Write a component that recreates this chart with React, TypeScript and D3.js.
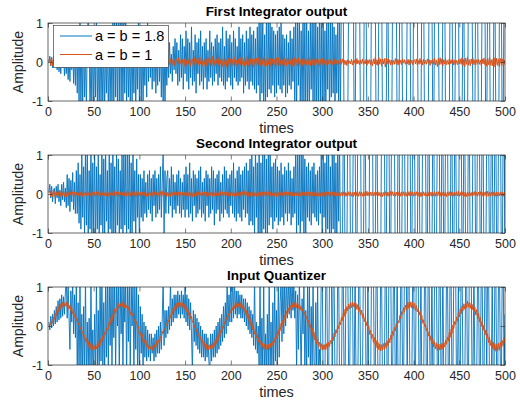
import React, { useEffect, useRef } from 'react';
import * as d3 from 'd3';

// a = b = 1.8 (blue) and a = b = 1 (orange), samples 1..500

const firstBlue = [
  0, 0.15, -0.1, 0.12, -0.15, 0.05, 0.18, -0.12, 0.1, -0.2,
  0.15, -0.25, 0.05, -0.3, 0.2, -0.15, 0.25, -0.35, 0.1, -0.3,
  0.3, -0.45, 0.15, -0.5, 0.35, -0.2, 0.4, -0.55, 0.2, -0.6,
  0.6, -0.8, 0.9, -1.2, 1.3, -1.4, 0.5, -1.1, 0.7, -0.9,
  0.4, -1.3, 0.6, 1.2, 0.6, -1.5, 0.3, -1.1, 0.8, -1.3,
  0.5, -0.9, 1.3, -1.2, 0.4, -1.4, 0.7, -1.0, 0.3, -1.2,
  0.6, -1.3, 0.5, -0.8, 0.7, -1.4, 0.4, -1.1, 0.6, -1.3,
  1.2, -1.2, 1.4, -0.9, 1.1, -1.3, 1.3, -1.0, 1.5, -1.2,
  1.2, -1.4, 1.1, -0.8, 1.3, -1.1, 0.6, -0.9, 0.5, -1.2,
  0.7, -1.0, 0.4, -0.8, 0.9, -1.3, 0.5, -0.7, 1.2, -1.1,
  0.6, -1.3, 0.8, -1.2, 0.5, -0.6, 0.7, -0.9, 1.2, -0.5,
  0.8, -0.4, 0.6, -0.7, 0.9, -0.5, 0.7, -0.8, 0.4, -0.6,
  0.8, -0.5, 0.6, -0.9, 0.5, -1.2, 0.7, -1.3, 0.4, -0.6,
  0.3, -0.4, 0.5, -0.3, 0.2, -0.5, 0.4, -0.2, 0.6, -0.3,
  0.5, -0.6, 0.3, -0.5, 0.7, -0.4, 0.6, -0.7, 0.4, -0.3,
  0.8, -0.5, 0.6, -0.7, 0.5, -0.4, 0.9, -0.6, 0.3, -0.5,
  0.7, -0.8, 0.5, -0.3, 0.6, -0.6, 0.8, -0.5, 0.4, -0.7,
  0.5, -0.4, 0.6, -0.7, 0.3, -0.5, 0.8, -0.4, 0.5, -0.6,
  0.4, -0.5, 0.6, -0.3, 0.7, -0.6, 0.5, -0.4, 0.6, -0.5,
  0.9, -0.6, 0.4, -0.7, 0.8, -0.5, 0.6, -0.4, 0.7, -0.6,
  0.5, -0.7, 0.8, -0.4, 0.6, -0.5, 0.4, -0.6, 0.9, -0.5,
  0.6, -0.4, 0.7, -0.8, 0.5, -0.6, 0.8, -0.5, 0.6, -0.7,
  0.9, -0.5, 0.7, -0.6, 0.8, -0.7, 0.6, -0.8, 0.9, -0.6,
  1.3, -1.2, 1.4, -0.8, 1.2, -1.3, 0.7, -1.1, 1.3, -0.9,
  1.1, -0.7, 1.2, -0.8, 0.9, -0.6, 0.8, -0.9, 0.7, -0.8,
  0.8, -0.6, 0.9, -0.7, 1.1, -0.8, 0.7, -0.6, 0.6, -0.9,
  0.7, -0.8, 0.5, -0.6, 0.8, -0.7, 0.6, -0.5, 0.9, -1.1,
  1.2, -1.3, 1.1, -0.6, 1.4, -1.2, 0.8, -1.4, 1.3, -1.1,
  1.2, -1.3, 1.4, -1.2, 0.8, -1.3, 1.1, -0.7, 1.3, -1.2,
  1.3, -1.1, 1.2, -1.4, 0.9, -1.2, 1.3, -1.0, 1.2, -1.3,
  1.4, -1.2, 0.8, -1.3, 1.2, -0.7, 1.3, -1.4, 1.1, -0.9,
  1.2, -0.8, 0.9, -1.3, 0.7, -0.8, 1.2, -1.0, 1.3, -1.4,
  1.8, 2.1, 1.6, -1.9, -2.4, -1.7, -2.2, -1.5, 2.0, 2.3,
  1.7, 2.5, 1.9, 2.2, -1.8, -2.1, 1.6, 2.4, 1.9, 2.0,
  1.5, -2.3, -1.7, -2.0, -2.6, 1.8, 2.2, 1.6, -1.9, -2.3,
  -1.6, -2.1, -1.8, 2.4, 1.7, 2.0, 1.5, 2.2, -2.0, -1.6,
  -2.4, 1.9, 2.1, 1.6, 2.3, -1.8, -2.2, -1.5, -2.0, -1.7,
  2.1, 1.8, -2.3, -1.9, -1.6, -2.2, 1.7, 2.4, 2.0, 1.6,
  2.2, -1.9, -2.1, -1.7, 2.5, 1.8, 2.0, -1.6, -2.3, -1.9,
  -2.1, -1.8, 1.6, 2.2, 1.9, 2.4, -2.0, -1.7, -2.2, 1.8,
  2.1, 1.5, 2.3, 1.9, -1.8, -2.4, -1.6, -2.0, 2.2, 1.7,
  2.0, -1.9, -2.2, -1.6, -2.3, -1.8, 2.1, 1.6, 2.4, 1.9,
  -1.7, -2.1, 1.8, 2.3, 1.6, 2.0, 2.2, -1.9, -2.4, -1.6,
  -2.1, 1.7, 2.0, 2.4, -1.8, -2.2, -1.6, -2.0, -1.9, 2.3,
  1.8, 2.1, -1.7, -2.3, -1.9, 1.6, 2.2, 1.9, 2.5, -2.0,
  -1.6, -2.2, -1.8, 2.1, 1.7, -2.4, -1.9, -2.1, -1.6, 2.0,
  2.3, 1.8, 2.2, 1.6, -1.9, -2.2, -1.7, 2.4, 2.0, 1.7,
  -2.1, -1.8, -2.3, -1.6, 1.9, 2.2, 1.5, 2.0, -2.4, -1.8,
  1.7, 2.1, 1.9, -2.2, -1.6, -2.0, -1.8, 2.3, 1.9, -1.7,
  -2.2, -1.9, -2.4, 1.8, 2.1, 1.6, -2.0, -1.7, 2.2, 1.9,
];

const firstOrange = [
  0.02, 0.10, -0.08, 0.12, -0.10, 0.06, -0.04, 0.09, -0.07, 0.03,
  -0.05, 0.07, -0.09, 0.04, -0.03, 0.08, -0.06, 0.02, -0.08, 0.05,
  0.06, -0.04, 0.03, -0.07, 0.09, -0.05, 0.04, -0.02, 0.07, -0.06,
  0.03, -0.08, 0.05, -0.03, 0.06, -0.09, 0.04, 0.02, -0.05, 0.08,
  -0.04, 0.06, -0.07, 0.03, -0.02, 0.07, -0.05, 0.09, -0.06, 0.04,
  0.05, -0.03, 0.08, -0.06, 0.02, -0.04, 0.07, -0.08, 0.03, -0.05,
  0.06, -0.07, 0.04, -0.02, 0.09, -0.05, 0.03, -0.06, 0.08, -0.04,
  -0.03, 0.05, -0.08, 0.06, -0.04, 0.02, -0.07, 0.10, -0.05, 0.03,
  0.07, -0.04, 0.05, -0.09, 0.03, -0.06, 0.08, -0.02, 0.04, -0.07,
  0.02, -0.05, 0.09, -0.03, 0.06, -0.08, 0.04, -0.06, 0.07, -0.03,
  0.05, -0.07, 0.03, -0.04, 0.08, -0.06, 0.02, -0.09, 0.06, -0.03,
  0.04, -0.05, 0.07, -0.02, 0.05, -0.08, 0.03, 0.06, -0.07, 0.04,
  -0.06, 0.08, -0.03, 0.05, -0.09, 0.02, -0.04, 0.07, -0.05, 0.10,
  -0.08, 0.04, -0.06, 0.09, -0.03, 0.05, -0.07, 0.03, -0.10, 0.06,
  0.08, -0.05, 0.11, -0.07, 0.04, -0.09, 0.06, -0.03, 0.09, -0.12,
  0.05, -0.08, 0.10, -0.04, 0.07, -0.11, 0.03, 0.08, -0.06, 0.12,
  -0.09, 0.06, -0.04, 0.10, -0.07, 0.13, -0.05, 0.08, -0.10, 0.04,
  -0.06, 0.09, -0.12, 0.07, -0.03, 0.11, -0.08, 0.05, -0.09, 0.14,
  -0.07, 0.04, -0.10, 0.08, -0.05, 0.12, -0.09, 0.06, -0.04, 0.10,
  -0.11, 0.07, -0.06, 0.09, -0.13, 0.05, -0.08, 0.11, -0.04, 0.08,
  -0.10, 0.06, -0.07, 0.12, -0.09, 0.05, -0.12, 0.08, -0.05, 0.13,
  -0.08, 0.10, -0.06, 0.04, -0.11, 0.09, -0.07, 0.14, -0.10, 0.06,
  -0.05, 0.11, -0.09, 0.07, -0.13, 0.08, -0.04, 0.10, -0.08, 0.12,
  -0.07, 0.05, -0.10, 0.09, -0.06, 0.13, -0.11, 0.07, -0.09, 0.11,
  -0.06, 0.08, -0.12, 0.10, -0.05, 0.09, -0.08, 0.06, -0.14, 0.11,
  -0.07, 0.12, -0.09, 0.05, -0.10, 0.08, -0.06, 0.13, -0.08, 0.07,
  -0.11, 0.09, -0.05, 0.10, -0.07, 0.06, -0.12, 0.08, -0.09, 0.12,
  -0.06, 0.07, -0.10, 0.11, -0.08, 0.05, -0.07, 0.09, -0.11, 0.06,
  -0.05, 0.10, -0.08, 0.07, -0.06, 0.12, -0.09, 0.05, -0.07, 0.08,
  -0.10, 0.06, -0.05, 0.09, -0.07, 0.04, -0.11, 0.08, -0.06, 0.10,
  -0.08, 0.05, -0.04, 0.07, -0.09, 0.06, -0.05, 0.08, -0.03, 0.06,
  -0.07, 0.04, -0.06, 0.09, -0.04, 0.05, -0.08, 0.03, -0.05, 0.07,
  -0.06, 0.08, -0.03, 0.05, -0.07, 0.04, -0.09, 0.06, -0.04, 0.03,
  -0.05, 0.07, -0.08, 0.04, -0.03, 0.06, -0.06, 0.09, -0.05, 0.04,
  -0.07, 0.05, -0.04, 0.08, -0.06, 0.03, -0.05, 0.07, -0.09, 0.06,
  -0.04, 0.06, -0.07, 0.05, -0.10, 0.08, -0.05, 0.11, -0.07, 0.06,
  -0.09, 0.12, -0.06, 0.08, -0.11, 0.07, -0.05, 0.09, -0.13, 0.10,
  -0.06, 0.08, -0.04, 0.06, -0.08, 0.05, -0.07, 0.04, -0.06, 0.09,
  -0.05, 0.07, -0.08, 0.06, -0.04, 0.05, -0.07, 0.08, -0.03, 0.06,
  -0.06, 0.04, -0.05, 0.07, -0.08, 0.06, -0.04, 0.05, -0.07, 0.03,
  0.06, -0.05, 0.08, -0.07, 0.04, -0.06, 0.09, -0.04, 0.05, -0.08,
  0.07, -0.05, 0.04, -0.06, 0.08, -0.03, 0.06, -0.09, 0.05, -0.04,
  0.07, -0.06, 0.10, -0.08, 0.05, -0.12, 0.09, -0.07, 0.11, -0.06,
  0.08, -0.10, 0.06, -0.05, 0.09, -0.07, 0.04, -0.06, 0.08, -0.05,
  0.06, -0.04, 0.07, -0.08, 0.05, -0.06, 0.04, -0.07, 0.06, -0.05,
  0.08, -0.06, 0.11, -0.09, 0.07, -0.12, 0.10, -0.06, 0.13, -0.08,
  0.06, -0.10, 0.08, -0.05, 0.09, -0.07, 0.05, -0.08, 0.06, -0.04,
  0.07, -0.06, 0.05, -0.09, 0.08, -0.05, 0.10, -0.07, 0.06, -0.11,
  0.09, -0.07, 0.12, -0.08, 0.06, -0.10, 0.08, -0.13, 0.11, -0.07,
  0.10, -0.09, 0.07, -0.12, 0.09, -0.06, 0.08, -0.10, 0.05, -0.07,
];

const secondBlue = [
  0.05, 0.25, -0.1, 0.2, -0.2, 0.1, 0.15, -0.25, 0.2, -0.1,
  0.25, -0.2, 0.1, -0.3, 0.25, -0.15, 0.3, -0.2, 0.15, -0.35,
  0.5, -0.3, 0.4, -0.45, 0.35, -0.2, 0.55, -0.4, 0.3, -0.5,
  0.6, -0.5, 0.8, -0.75, 0.5, -0.9, 1.0, -0.6, 0.7, -1.1,
  1.2, -0.8, 1.1, -1.3, 0.6, -0.9, 1.3, -1.2, 0.8, -1.0,
  1.2, -1.3, 0.7, -0.9, 1.1, -1.2, 0.5, -0.8, 1.3, -1.1,
  0.9, -1.2, 1.2, -0.7, 0.6, -1.3, 1.1, -0.9, 0.8, -1.2,
  1.3, -1.0, 0.7, -1.3, 1.2, -0.8, 0.9, -1.1, 0.6, -0.9,
  1.2, -1.3, 1.3, -0.8, 1.1, -1.2, 1.4, -0.9, 1.2, -1.3,
  0.8, -1.1, 1.2, -0.7, 0.6, -1.2, 0.9, -0.6, 0.5, -1.3,
  0.5, -0.6, 0.4, -0.7, 0.6, -0.5, 0.3, -0.6, 0.5, -0.4,
  0.6, -0.5, 0.4, -0.7, 0.5, -0.3, 0.6, -0.6, 0.4, -0.5,
  0.5, -0.4, 0.7, -0.6, 0.3, 1.1, -1.1, 0.6, -0.5, 0.4,
  0.6, -0.5, 0.4, -0.3, 0.7, -0.6, 0.5, -0.4, 0.3, -0.5,
  0.5, -0.3, 0.6, -0.5, 0.4, -0.6, 0.3, -0.4, 0.5, -0.6,
  0.7, -0.4, 0.5, -0.6, 0.8, -0.5, 0.4, -0.7, 0.6, -0.3,
  0.5, -0.6, 0.4, -0.5, 0.6, -0.4, 0.7, -0.6, 0.3, -0.5,
  0.4, -0.7, 0.6, -0.3, 0.5, -0.6, 0.4, -0.5, 0.7, -0.4,
  0.6, -0.8, 0.4, -0.5, 0.5, -0.4, 0.6, -0.7, 0.3, -0.5,
  0.5, -0.6, 0.7, -0.4, 0.6, -0.5, 0.4, -0.6, 0.5, -0.3,
  0.6, -0.5, 0.8, -0.6, 0.4, -0.7, 0.6, -0.5, 0.7, -0.6,
  0.5, -0.7, 0.6, -0.4, 0.7, -0.6, 0.8, -0.5, 0.6, -0.8,
  0.9, -0.7, 1.1, -0.8, 0.7, -1.1, 1.2, -0.6, 0.8, -1.2,
  1.3, -1.2, 0.8, -1.3, 1.2, -0.9, 1.3, -1.1, 0.9, -1.2,
  1.1, -0.8, 1.2, -0.6, 0.7, -0.9, 0.8, -0.7, 0.9, -0.6,
  0.7, -0.8, 0.6, -0.7, 0.8, -0.6, 0.5, -0.8, 0.7, -0.5,
  0.6, -0.7, 0.8, -0.5, 0.6, -0.8, 0.4, -0.6, 0.7, -0.5,
  1.2, -1.1, 1.3, -0.8, 1.2, -1.3, 1.1, -0.7, 1.2, -1.2,
  0.9, -1.1, 0.7, -0.6, 0.8, -0.7, 0.6, -0.8, 0.7, -0.5,
  0.8, -0.6, 0.5, -0.7, 0.6, -0.8, 0.7, -0.5, 1.2, -1.2,
  1.3, -0.6, 0.8, -1.2, 1.1, -0.9, 1.3, -1.2, 0.7, -1.3,
  1.2, -0.9, 1.3, -1.2, 0.8, -1.3, 1.2, -0.7, 1.4, -1.3,
  -1.9, -2.2, 1.7, 2.0, -1.8, -2.3, -1.6, 2.1, 1.9, 2.4,
  -1.7, -2.0, -2.2, 1.8, 2.3, 1.6, -2.1, -1.9, 2.2, 1.7,
  2.0, 1.8, -2.4, -1.6, -2.0, 1.9, 2.2, -1.8, -2.1, -1.7,
  -2.3, 2.0, 1.6, 2.4, 1.9, -1.8, -2.2, -1.6, 2.1, 1.8,
  -2.0, -1.7, -2.3, -1.9, 2.2, 1.6, 2.0, 1.8, -2.4, -1.9,
  1.7, 2.1, 1.9, -2.2, -1.6, 2.3, 1.8, 2.0, 1.6, -2.1,
  -1.8, -2.4, 1.9, 2.2, -1.7, -2.0, -1.6, 2.3, 1.8, 2.1,
  -2.2, -1.9, -1.7, 2.0, 1.6, 2.4, -1.8, -2.1, 1.9, 2.2,
  1.7, -2.3, -1.8, -2.0, 2.1, 1.6, -1.9, -2.4, -1.7, 2.2,
  1.8, 2.0, 1.6, -2.1, -1.9, 2.3, 1.7, -2.2, -1.6, -2.0,
  1.9, 2.4, -1.8, -2.1, -1.7, 2.0, 1.6, 2.2, -2.3, -1.9,
  2.1, 1.8, -1.6, -2.2, 2.0, 1.7, 2.3, -1.9, -2.1, -1.8,
  2.2, 1.6, -2.4, -1.9, 1.8, 2.1, -1.7, -2.0, -2.2, 1.9,
  1.6, 2.3, -1.8, -2.1, 2.0, 1.7, -1.9, -2.4, -1.6, 2.2,
  1.8, -2.0, -2.3, -1.7, 2.1, 1.9, 1.6, -2.2, -1.8, 2.4,
  2.0, 1.7, -2.1, -1.6, 2.3, 1.8, -1.9, -2.2, -2.0, 1.6,
  2.2, 1.9, -1.7, -2.4, 2.1, 1.8, -2.0, -1.6, 2.3, 1.7,
  -2.2, -1.9, 2.0, 1.6, 2.4, -1.8, -2.1, 1.9, 2.2, -1.7,
];

const secondOrange = [
  0.03, 0.08, -0.06, 0.10, -0.08, 0.05, 0.07, -0.09, 0.04, -0.05,
  0.06, -0.04, 0.08, -0.07, 0.05, -0.03, 0.07, -0.06, 0.04, -0.08,
  0.05, -0.04, 0.06, -0.02, 0.04, -0.06, 0.07, -0.03, 0.05, -0.05,
  0.04, -0.06, 0.03, -0.05, 0.06, -0.04, 0.05, -0.07, 0.03, -0.02,
  0.05, -0.05, 0.07, -0.03, 0.04, -0.06, 0.02, -0.04, 0.06, -0.03,
  0.04, -0.07, 0.05, -0.02, 0.08, -0.04, 0.03, -0.06, 0.05, -0.03,
  0.06, -0.04, 0.03, -0.05, 0.07, -0.06, 0.04, -0.02, 0.05, -0.05,
  0.03, -0.06, 0.08, -0.04, 0.05, -0.03, 0.06, -0.07, 0.04, -0.02,
  0.05, -0.04, 0.07, -0.06, 0.03, -0.05, 0.09, -0.03, 0.04, -0.06,
  0.06, -0.03, 0.04, -0.05, 0.07, -0.08, 0.03, -0.04, 0.06, -0.05,
  0.04, -0.06, 0.05, -0.03, 0.06, -0.05, 0.03, -0.07, 0.05, -0.04,
  0.06, -0.03, 0.04, -0.06, 0.05, -0.02, 0.07, -0.05, 0.04, -0.06,
  0.03, -0.05, 0.06, -0.04, 0.08, -0.06, 0.04, -0.03, 0.05, -0.07,
  0.04, -0.05, 0.03, -0.06, 0.07, -0.04, 0.05, -0.03, 0.06, -0.05,
  0.05, -0.04, 0.06, -0.07, 0.04, -0.03, 0.05, -0.06, 0.03, -0.04,
  0.07, -0.05, 0.04, -0.06, 0.05, -0.03, 0.06, -0.08, 0.04, -0.05,
  0.03, -0.06, 0.05, -0.04, 0.07, -0.05, 0.03, -0.06, 0.05, -0.03,
  0.06, -0.04, 0.05, -0.07, 0.04, -0.05, 0.06, -0.03, 0.05, -0.06,
  0.04, -0.05, 0.07, -0.04, 0.05, -0.06, 0.03, -0.05, 0.08, -0.04,
  0.05, -0.06, 0.04, -0.03, 0.06, -0.05, 0.04, -0.07, 0.05, -0.04,
  0.06, -0.05, 0.03, -0.06, 0.05, -0.04, 0.07, -0.05, 0.04, -0.06,
  0.05, -0.03, 0.06, -0.05, 0.08, -0.06, 0.04, -0.05, 0.06, -0.07,
  0.04, -0.06, 0.05, -0.04, 0.07, -0.05, 0.03, -0.06, 0.05, -0.04,
  0.06, -0.05, 0.04, -0.07, 0.05, -0.03, 0.06, -0.05, 0.04, -0.06,
  0.07, -0.04, 0.05, -0.06, 0.03, -0.05, 0.06, -0.04, 0.05, -0.07,
  0.04, -0.05, 0.06, -0.03, 0.05, -0.06, 0.04, -0.05, 0.07, -0.04,
  0.05, -0.07, 0.04, -0.05, 0.06, -0.04, 0.05, -0.06, 0.03, -0.05,
  0.06, -0.04, 0.07, -0.05, 0.04, -0.06, 0.05, -0.03, 0.06, -0.05,
  0.04, -0.06, 0.05, -0.07, 0.06, -0.04, 0.05, -0.06, 0.04, -0.05,
  0.06, -0.05, 0.04, -0.06, 0.07, -0.05, 0.03, -0.06, 0.05, -0.04,
  0.05, -0.06, 0.04, -0.05, 0.06, -0.03, 0.05, -0.06, 0.04, -0.05,
  0.06, -0.04, 0.05, -0.06, 0.04, -0.05, 0.07, -0.04, 0.05, -0.06,
  0.04, -0.05, 0.06, -0.04, 0.05, -0.06, 0.03, -0.05, 0.06, -0.04,
  0.05, -0.06, 0.04, -0.07, 0.05, -0.04, 0.06, -0.05, 0.04, -0.06,
  0.06, -0.04, 0.05, -0.06, 0.04, -0.05, 0.06, -0.04, 0.07, -0.05,
  0.04, -0.06, 0.05, -0.04, 0.06, -0.05, 0.04, -0.06, 0.05, -0.04,
  0.06, -0.05, 0.04, -0.06, 0.05, -0.07, 0.04, -0.05, 0.06, -0.04,
  0.05, -0.06, 0.04, -0.05, 0.07, -0.04, 0.06, -0.05, 0.04, -0.06,
  0.05, -0.04, 0.06, -0.05, 0.04, -0.06, 0.05, -0.04, 0.06, -0.05,
  0.04, -0.06, 0.05, -0.04, 0.06, -0.05, 0.07, -0.04, 0.05, -0.06,
  0.05, -0.04, 0.06, -0.05, 0.04, -0.06, 0.05, -0.07, 0.04, -0.05,
  0.06, -0.04, 0.05, -0.06, 0.04, -0.05, 0.06, -0.04, 0.05, -0.06,
  0.04, -0.05, 0.07, -0.06, 0.05, -0.04, 0.06, -0.05, 0.04, -0.06,
  0.05, -0.04, 0.06, -0.05, 0.04, -0.07, 0.05, -0.04, 0.06, -0.05,
  0.06, -0.05, 0.04, -0.06, 0.05, -0.04, 0.06, -0.05, 0.08, -0.06,
  0.04, -0.05, 0.06, -0.04, 0.05, -0.06, 0.04, -0.07, 0.05, -0.04,
  0.06, -0.05, 0.04, -0.06, 0.05, -0.04, 0.07, -0.05, 0.04, -0.06,
  0.05, -0.04, 0.06, -0.05, 0.04, -0.06, 0.05, -0.04, 0.06, -0.08,
  0.07, -0.05, 0.04, -0.06, 0.05, -0.04, 0.06, -0.05, 0.04, -0.06,
  0.05, -0.06, 0.04, -0.05, 0.06, -0.04, 0.05, -0.06, 0.04, -0.05,
];

const quantBlue = [
  0.1, -0.1,
  0.25, -0.05, 0.3, 0.0, 0.4, 0.05, 0.5, 0.1, 0.65, 0.15,
  0.7, 0.2, 0.8, 0.25, 0.75, 0.3, 0.85, 1.2, 0.2, 1.1,
  0.25, -0.6, 0.9, 0.1, 1.2, -0.2, 0.8, -0.3, 1.2, -1.2,
  0.6, -1.3, 1.1, -1.2, 0.3, -1.3, 0.5, -1.2, 1.2, -1.3,
  0.1, -1.1, 0.2, -1.3, 1.1, -1.2, -0.1, -1.3, 0.3, -1.2,
  1.2, -1.1, 0.4, -1.3, 1.2, -0.9, 1.3, -1.2, 0.6, -1.3,
  1.2, -0.8, 1.3,
  -1.2, 1.2, -0.5, 1.3, -1.2, 1.1, -0.3, 1.3, -1.2, 1.2,
  0.0, 1.3, -1.3, 1.2, -0.2, 1.3, -1.2, 1.3, 0.1, 1.2,
  -1.3, 1.2, -0.4, 1.3, -1.2, 1.1, 0.0, 1.2, -1.3, 1.1,
  -0.6, 1.2, -1.2, 0.8, -1.3, 0.5, -0.7, 0.3, -1.2, 0.1,
  -0.8, 0.0, -0.9, -0.1, -0.8, -0.2, -0.9, -0.2, -0.7, -0.3,
  -0.9, -0.2, -0.8, -0.1, -0.7, 0.0, -0.7, 0.1, -0.6, 0.2,
  1.2, -0.5, 0.4,
  -0.3, 0.4, -0.2, 0.5, -0.1, 1.2, 0.0, 0.7, 0.1, 0.8,
  0.2, 0.8, 0.2, 0.9, 0.3, 0.8, 0.2, 0.9, 0.3, 0.8,
  0.2, 1.1, 0.1, 0.8, 0.0, 0.7, -0.1, 0.6, -0.2, -1.2,
  0.4, -0.4, 0.3, -0.5, 0.2, -0.6, 0.1, -0.7, 0.0, -0.8,
  -0.1, -0.8, -0.2, -0.9, -0.2, -0.8, -0.3, -0.9, -1.2, -0.2,
  -0.9, -0.2, -0.8, -0.1, -0.8, 0.0, -0.7, 0.1, -0.6, 0.2,
  -0.5, 0.3, -0.4,
  0.5, -0.3, 0.6, -0.2, 1.2, 0.0, 0.8, 0.1, 1.2, 0.1,
  1.3, 0.2, 1.2, 0.3, 0.9, 0.2, 0.9, 0.3, 0.8, 0.2,
  0.8, 0.2, 0.7, 0.1, 0.7, 0.0, 0.6, -0.1, 0.5, -0.2,
  0.4, -0.3, 0.3, -0.5, 1.2, -0.6, 0.1, -0.7, 0.0, -1.2,
  1.2, -1.3, 0.2, -1.2, 1.1, -1.3, -0.2, -1.2, 0.3, -1.3,
  1.2, -1.1, 0.1, -1.2, 0.6, -1.3, 1.2, -0.9, 0.4, -1.2,
  1.3, -0.8, 0.6,
  1.2, -0.4, 1.3, -0.2, 1.2, 0.0, 1.3, 0.2, 1.2, 0.3,
  1.3, 0.2, 1.2, 0.4, 1.1, 0.2, 0.9, -1.2, 0.8, -0.6,
  1.2, 0.1, -1.3, 0.7, -0.2, 1.2, -1.2, 0.4, -1.3, 1.1,
  -0.8, 1.2, -1.3, 0.5, -1.2, 1.2, -0.9, -1.3, 0.6, -1.2,
  1.1, -1.3, -0.6, -1.3, 1.5, 1.7, -1.4, -1.6, -1.3, 1.5,
  1.4, -1.6, -1.5, 1.3, 1.6, 1.4, -1.5, 1.6, 1.3, -1.4,
  -1.7, -1.5, 1.6,
  1.4, -1.5, -1.3, -1.7, 1.6, 1.4, -1.5, -1.6, 1.3, 1.7,
  1.5, -1.4, -1.6, 1.5, 1.3, 1.7, -1.6, -1.4, 1.5, -1.3,
  -1.7, -1.5, 1.4, 1.6, -1.3, -1.5, -1.7, 1.4, 1.6, 1.3,
  -1.5, -1.6, 1.4, -1.7, -1.3, -1.5, 1.6, 1.4, 1.7, -1.5,
  -1.4, 1.3, 1.6, -1.5, -1.7, -1.4, 1.5, 1.3, -1.6, -1.4,
  -1.5, 1.7, 1.4, -1.3, -1.6, 1.5, 1.4, 1.6, -1.7, -1.5,
  1.4, 1.3, -1.6, -1.5, 1.7, -1.4, -1.3, -1.6, 1.5, 1.4,
  -1.5, -1.7, 1.6, 1.3, 1.5, -1.4, 1.6, 1.4, -1.5, -1.3,
  -1.6, 1.4, 1.7, -1.5, -1.4, 1.6, 1.3, 1.5, -1.7, -1.4,
  1.5, -1.6, -1.3, -1.5, 1.4, 1.7, -1.6, -1.4, 1.5, 1.3,
  -1.4, -1.6, 1.5, -1.3, -1.7, 1.6, 1.4, 1.3, -1.5, -1.6,
  1.4, 1.7, -1.5, -1.3, 1.6, -1.4, -1.7, -1.5, 1.3, 1.6,
  -1.4, -1.5, 1.7, 1.4, -1.6, -1.3, 1.5, 1.6, 1.4, -1.7,
  -1.5, 1.3, -1.6, -1.4, 1.5, 1.7, -1.3, -1.6, -1.5, 1.4,
  1.6, -1.7, -1.4, 1.5, 1.3, 1.6, -1.5, -1.4, 1.7, -1.3,
  -1.6, -1.5, 1.4, 1.6, -1.7, -1.3, 1.5, 1.4, -1.6, -1.5,
  1.3, 1.7, -1.4, 1.6, 1.5, -1.3, -1.7, -1.5, 1.4, -1.6,
  -1.4, 1.5, 1.3, -1.7, -1.5, 1.6, 1.4, -1.3, -1.6, 1.5,
  1.7, -1.4, 0.3,
];

const quantOrange = [
  0.0, 0.03,
  0.04, 0.12, 0.08, 0.22, 0.17, 0.33, 0.27, 0.42, 0.36, 0.50,
  0.41, 0.56, 0.47, 0.60, 0.49, 0.58, 0.51, 0.62, 0.48, 0.57,
  0.44, 0.53, 0.38, 0.46, 0.31, 0.39, 0.22, 0.30, 0.13, 0.20,
  0.02, 0.09, -0.10, -0.02, -0.20, -0.13, -0.31, -0.23, -0.40, -0.31,
  -0.47, -0.39, -0.55, -0.44, -0.58, -0.47, -0.61, -0.50, -0.60, -0.48,
  -0.59, -0.45, -0.54, -0.40, -0.49, -0.33, -0.41, -0.25, -0.32, -0.15,
  -0.22, -0.05, -0.12,
  -0.05, 0.10, 0.03, 0.21, 0.12, 0.30, 0.24, 0.44, 0.33, 0.47,
  0.40, 0.58, 0.45, 0.57, 0.50, 0.63, 0.49, 0.59, 0.46, 0.55,
  0.47, 0.56, 0.40, 0.49, 0.30, 0.37, 0.25, 0.33, 0.12, 0.18,
  0.04, 0.11, -0.07, -0.01, -0.22, -0.15, -0.28, -0.21, -0.41, -0.34,
  -0.45, -0.37, -0.53, -0.46, -0.60, -0.49, -0.58, -0.52, -0.63, -0.50,
  -0.56, -0.47, -0.55, -0.38, -0.47, -0.35, -0.43, -0.27, -0.30, -0.13,
  -0.20, -0.07, -0.10,
  0.06, 0.01, 0.15, 0.10, 0.27, 0.20, 0.37, 0.30, 0.45, 0.38,
  0.52, 0.44, 0.58, 0.47, 0.61, 0.50, 0.59, 0.48, 0.60, 0.46,
  0.56, 0.42, 0.51, 0.36, 0.43, 0.27, 0.35, 0.18, 0.25, 0.09,
  0.14, -0.04, 0.03, -0.15, -0.07, -0.26, -0.17, -0.35, -0.27, -0.44,
  -0.35, -0.52, -0.42, -0.57, -0.46, -0.61, -0.49, -0.62, -0.48, -0.59,
  -0.46, -0.57, -0.43, -0.52, -0.36, -0.45, -0.28, -0.37, -0.19, -0.27,
  -0.10, -0.17, 0.00,
  -0.06, 0.12, 0.05, 0.23, 0.14, 0.32, 0.25, 0.41, 0.33, 0.49,
  0.40, 0.55, 0.45, 0.59, 0.48, 0.62, 0.50, 0.58, 0.47, 0.60,
  0.43, 0.54, 0.38, 0.47, 0.30, 0.40, 0.21, 0.31, 0.12, 0.21,
  0.01, 0.10, -0.09, 0.00, -0.21, -0.12, -0.31, -0.22, -0.41, -0.30,
  -0.48, -0.38, -0.55, -0.43, -0.60, -0.47, -0.63, -0.49, -0.61, -0.46,
  -0.60, -0.44, -0.56, -0.39, -0.50, -0.32, -0.42, -0.24, -0.33, -0.14,
  -0.23, -0.04, -0.12,
  0.07, -0.02, 0.16, 0.09, 0.28, 0.19, 0.38, 0.28, 0.46, 0.36,
  0.53, 0.42, 0.59, 0.46, 0.62, 0.49, 0.61, 0.47, 0.60, 0.45,
  0.57, 0.41, 0.52, 0.37, 0.44, 0.29, 0.36, 0.17, 0.26, 0.08,
  0.15, -0.03, 0.04, -0.14, -0.06, -0.27, -0.16, -0.36, -0.26, -0.45,
  -0.34, -0.53, -0.41, -0.58, -0.45, -0.62, -0.48, -0.61, -0.47, -0.60,
  -0.45, -0.58, -0.42, -0.53, -0.37, -0.46, -0.29, -0.38, -0.18, -0.28,
  -0.09, -0.18, 0.01,
  -0.07, 0.11, 0.03, 0.22, 0.13, 0.33, 0.24, 0.43, 0.32, 0.50,
  0.39, 0.56, 0.44, 0.60, 0.47, 0.63, 0.49, 0.59, 0.46, 0.58,
  0.42, 0.55, 0.37, 0.48, 0.29, 0.41, 0.20, 0.32, 0.11, 0.22,
  0.00, 0.11, -0.10, 0.01, -0.22, -0.11, -0.32, -0.21, -0.42, -0.29,
  -0.49, -0.37, -0.56, -0.42, -0.61, -0.46, -0.64, -0.48, -0.62, -0.45,
  -0.61, -0.43, -0.57, -0.38, -0.51, -0.31, -0.43, -0.23, -0.34, -0.13,
  -0.24, -0.03, -0.13,
  0.06, -0.03, 0.14, 0.08, 0.27, 0.18, 0.37, 0.29, 0.47, 0.35,
  0.54, 0.41, 0.60, 0.45, 0.61, 0.48, 0.62, 0.46, 0.61, 0.44,
  0.58, 0.40, 0.53, 0.36, 0.45, 0.28, 0.37, 0.16, 0.27, 0.07,
  0.16, -0.02, 0.05, -0.13, -0.05, -0.26, -0.15, -0.37, -0.25, -0.46,
  -0.33, -0.54, -0.40, -0.59, -0.44, -0.63, -0.47, -0.62, -0.46, -0.61,
  -0.44, -0.59, -0.41, -0.54, -0.36, -0.47, -0.28, -0.39, -0.17, -0.29,
  -0.08, -0.19, 0.02,
  -0.06, 0.12, 0.04, 0.23, 0.12, 0.34, 0.23, 0.44, 0.31, 0.51,
  0.38, 0.57, 0.43, 0.61, 0.46, 0.64, 0.48, 0.60, 0.45, 0.59,
  0.41, 0.56, 0.36, 0.49, 0.28, 0.42, 0.19, 0.33, 0.10, 0.23,
  -0.01, 0.12, -0.11, 0.02, -0.23, -0.10, -0.33, -0.20, -0.43, -0.28,
  -0.50, -0.36, -0.57, -0.41, -0.62, -0.45, -0.65, -0.47, -0.63, -0.44,
  -0.62, -0.42, -0.58, -0.37, -0.52, -0.30, -0.44,
];

const panelTitles = ['First Integrator output', 'Second Integrator output', 'Input Quantizer'];
const xTicks = [0, 50, 100, 150, 200, 250, 300, 350, 400, 450, 500];
const yTicks = [-1, 0, 1];
const legendLabels = ['a = b = 1.8', 'a = b = 1'];
const colors = ['#0072BD', '#D95319'];

const panels = [
  [firstBlue, firstOrange],
  [secondBlue, secondOrange],
  [quantBlue, quantOrange],
];

const FONT = 'Liberation Sans, Arial, Helvetica, sans-serif';

const App = () => {
  const ref = useRef<SVGSVGElement>(null);

  useEffect(() => {
    const svg = d3.select(ref.current);
    svg.selectAll('*').remove();

    const left = 48;
    const right = 505;
    const tops = [23, 155, 287];
    const h = 78;
    const axisColor = '#262626';

    const x = d3.scaleLinear().domain([0, 500]).range([left, right]);

    svg.append('rect').attr('width', 520).attr('height', 403).attr('fill', '#fff');

    panels.forEach((series, p) => {
      const top = tops[p];
      const y = d3.scaleLinear().domain([-1, 1]).range([top + h, top]);
      const g = svg.append('g');

      g.append('rect')
        .attr('x', left).attr('y', top)
        .attr('width', right - left).attr('height', h)
        .attr('fill', '#fff');

      const clipId = `clip${p}`;
      g.append('clipPath').attr('id', clipId)
        .append('rect')
        .attr('x', left).attr('y', top)
        .attr('width', right - left).attr('height', h);

      const line = d3.line<number>()
        .x((d, i) => x(i + 1))
        .y(d => y(d));

      series.forEach((vals, s) => {
        g.append('path')
          .datum(vals)
          .attr('clip-path', `url(#${clipId})`)
          .attr('fill', 'none')
          .attr('stroke', colors[s])
          .attr('stroke-width', s === 0 ? 0.9 : 1)
          .attr('stroke-linejoin', 'round')
          .attr('d', line);
      });

      // axes with inward ticks on all four sides
      const bottomAxis = g.append('g')
        .attr('transform', `translate(0,${top + h})`)
        .call(d3.axisBottom(x).tickValues(xTicks).tickSize(-4.5).tickSizeOuter(0).tickPadding(6));
      const topAxis = g.append('g')
        .attr('transform', `translate(0,${top})`)
        .call(d3.axisTop(x).tickValues(xTicks).tickSize(-4.5).tickSizeOuter(0).tickFormat(() => ''));
      const leftAxis = g.append('g')
        .attr('transform', `translate(${left},0)`)
        .call(d3.axisLeft(y).tickValues(yTicks).tickSize(-4.5).tickSizeOuter(0).tickPadding(5).tickFormat(d3.format('d')));
      const rightAxis = g.append('g')
        .attr('transform', `translate(${right},0)`)
        .call(d3.axisRight(y).tickValues(yTicks).tickSize(-4.5).tickSizeOuter(0).tickFormat(() => ''));

      [bottomAxis, topAxis, leftAxis, rightAxis].forEach(a => {
        a.attr('font-family', FONT).attr('font-size', 12.5).attr('color', axisColor);
        a.select('.domain').remove();
        a.selectAll('line').attr('stroke-width', 0.6);
      });
      leftAxis.selectAll('text').text((d: any) => (d < 0 ? '-' : '') + Math.abs(d));

      g.append('rect')
        .attr('x', left).attr('y', top)
        .attr('width', right - left).attr('height', h)
        .attr('fill', 'none')
        .attr('stroke', axisColor)
        .attr('stroke-width', 0.7);

      g.append('text')
        .attr('x', (left + right) / 2).attr('y', top - 7)
        .attr('text-anchor', 'middle')
        .attr('font-family', FONT).attr('font-size', 13.5).attr('font-weight', 'bold')
        .attr('fill', '#000')
        .text(panelTitles[p]);

      g.append('text')
        .attr('x', (left + right) / 2).attr('y', top + h + 32)
        .attr('text-anchor', 'middle')
        .attr('font-family', FONT).attr('font-size', 14.5)
        .attr('fill', axisColor)
        .text('times');

      g.append('text')
        .attr('transform', `translate(23,${top + h / 2}) rotate(-90)`)
        .attr('text-anchor', 'middle')
        .attr('font-family', FONT).attr('font-size', 14)
        .attr('fill', axisColor)
        .text('Amplitude');

      if (p === 0) {
        const lg = g.append('g');
        lg.append('rect')
          .attr('x', 53.5).attr('y', 25.5).attr('width', 115).attr('height', 42)
          .attr('fill', '#fff').attr('stroke', axisColor).attr('stroke-width', 0.6);
        legendLabels.forEach((lab, i) => {
          const ly = 36 + i * 18.5;
          lg.append('line')
            .attr('x1', 60).attr('x2', 92).attr('y1', ly).attr('y2', ly)
            .attr('stroke', colors[i]).attr('stroke-width', 1);
          lg.append('text')
            .attr('x', 95).attr('y', ly + 5)
            .attr('font-family', FONT).attr('font-size', 14.5)
            .attr('fill', '#000')
            .text(lab);
        });
      }
    });
  }, []);

  return (
    <svg
      ref={ref}
      width={520}
      height={403}
      style={{ position: 'absolute', left: 0, top: 0, display: 'block' }}
    />
  );
};

export default App;
